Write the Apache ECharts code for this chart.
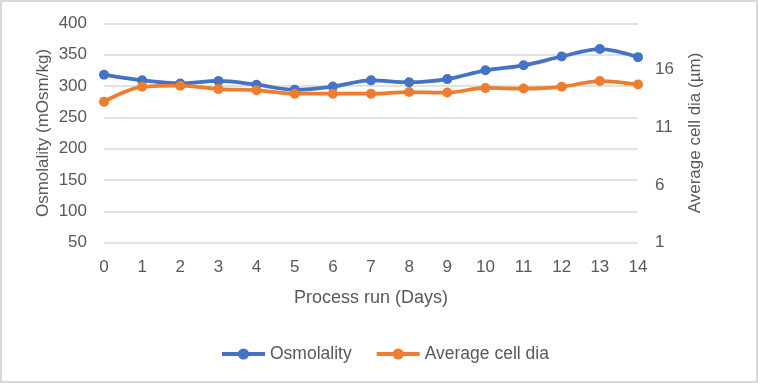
<!DOCTYPE html>
<html>
<head>
<meta charset="utf-8">
<script src="https://cdn.jsdelivr.net/npm/echarts@6/dist/echarts.min.js"></script>
<style>
html,body{margin:0;padding:0;background:#fff;}
#chart{width:758px;height:383px;}
</style>
</head>
<body>
<div id="chart"></div>
<script>
var days = ['0','1','2','3','4','5','6','7','8','9','10','11','12','13','14'];
var osmolality = [318, 309, 304, 308, 302, 294, 299, 309, 306, 311, 325, 333, 347, 359, 346];
var cellDia = [13.2, 14.5, 14.6, 14.3, 14.2, 13.9, 13.9, 13.9, 14.05, 14.0, 14.4, 14.35, 14.5, 15.0, 14.7];
var rightTicks = [1, 6, 11, 16];

var FONT = "'Liberation Sans', Arial, sans-serif";
var GREY = '#595959';
var BLUE = '#4472C4';
var ORANGE = '#ED7D31';

var chart = echarts.init(document.getElementById('chart'), null, {renderer: 'canvas'});
chart.setOption({
  animation: false,
  backgroundColor: '#fff',
  textStyle: {fontFamily: FONT},
  graphic: [{
    type: 'rect',
    shape: {x: 1, y: 1, width: 756, height: 381},
    style: {fill: 'none', stroke: '#d9d9d9', lineWidth: 2},
    silent: true
  }],
  grid: {left: 104, right: 120, top: 23.3, bottom: 140.3, containLabel: false},
  legend: {
    left: 220,
    top: 345,
    padding: 0,
    itemWidth: 43,
    itemHeight: 14,
    itemGap: 23,
    lineStyle: {width: 4},
    textStyle: {fontFamily: FONT, fontSize: 17.5, color: GREY},
    data: ['Osmolality', 'Average cell dia']
  },
  xAxis: {
    type: 'category',
    data: days,
    boundaryGap: false,
    axisLine: {show: false},
    axisTick: {show: false},
    axisLabel: {color: GREY, fontSize: 17, fontFamily: FONT, margin: 16},
    name: 'Process run (Days)',
    nameLocation: 'middle',
    nameGap: 46,
    nameTextStyle: {color: GREY, fontSize: 18, fontFamily: FONT}
  },
  yAxis: [{
    type: 'value',
    min: 50,
    max: 400,
    interval: 50,
    axisLine: {show: false},
    axisTick: {show: false},
    axisLabel: {color: GREY, fontSize: 17, fontFamily: FONT, margin: 17},
    splitLine: {lineStyle: {color: '#d9d9d9', width: 1.5}},
    name: 'Osmolality (mOsm/kg)',
    nameLocation: 'middle',
    nameGap: 52,
    nameMoveOverlap: false,
    nameTextStyle: {color: GREY, fontSize: 17, fontFamily: FONT}
  }, {
    type: 'value',
    min: 1,
    max: 20,
    axisLine: {show: false},
    axisTick: {show: false},
    splitLine: {show: false},
    axisLabel: {color: GREY, fontSize: 17, fontFamily: FONT, margin: 17, customValues: rightTicks},
    name: 'Average cell dia (µm)',
    nameLocation: 'middle',
    nameGap: 49,
    nameMoveOverlap: false,
    nameTextStyle: {color: GREY, fontSize: 17, fontFamily: FONT}
  }],
  series: [{
    name: 'Osmolality',
    type: 'line',
    yAxisIndex: 0,
    data: osmolality,
    smooth: 0.35,
    symbol: 'circle',
    symbolSize: 10,
    color: BLUE,
    lineStyle: {width: 3.75, color: BLUE},
    itemStyle: {color: BLUE}
  }, {
    name: 'Average cell dia',
    type: 'line',
    yAxisIndex: 1,
    data: cellDia,
    smooth: 0.35,
    symbol: 'circle',
    symbolSize: 10,
    color: ORANGE,
    lineStyle: {width: 3.75, color: ORANGE},
    itemStyle: {color: ORANGE}
  }]
});
</script>
</body>
</html>
